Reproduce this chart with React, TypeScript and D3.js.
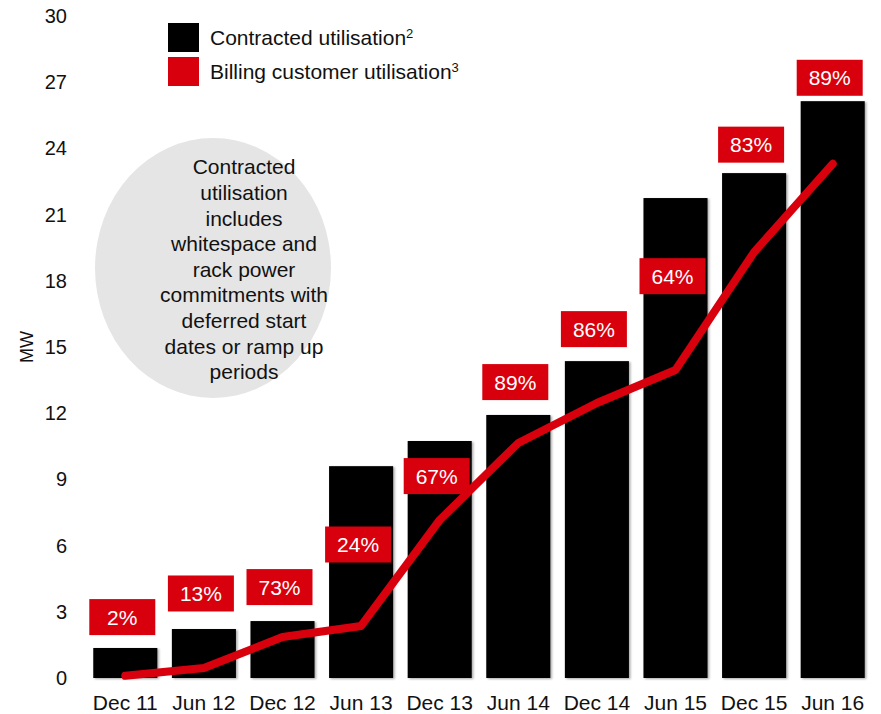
import React from "react";
import * as d3 from "d3";

const categories = ["Dec 11", "Jun 12", "Dec 12", "Jun 13", "Dec 13", "Jun 14", "Dec 14", "Jun 15", "Dec 15", "Jun 16"];
const contracted = [1.36, 2.22, 2.58, 9.6, 10.74, 11.92, 14.36, 21.75, 22.88, 26.14];
const billing = [0.1, 0.45, 1.86, 2.36, 7.16, 10.65, 12.46, 13.96, 19.3, 23.3];
const pctLabels = ["2%", "13%", "73%", "24%", "67%", "89%", "86%", "64%", "83%", "89%"];
const pctLabelLevel = [2.76, 3.83, 4.12, 6.05, 9.15, 13.41, 15.81, 18.21, 24.17, 27.2];
const yTicks = [0, 3, 6, 9, 12, 15, 18, 21, 24, 27, 30];
const noteLines = [
  "Contracted",
  "utilisation",
  "includes",
  "whitespace and",
  "rack power",
  "commitments with",
  "deferred start",
  "dates or ramp up",
  "periods",
];

const W = 881;
const H = 714;
const RED = "#d9000d";
const FONT = "'Liberation Sans', Arial, sans-serif";

export default function App() {
  const x = d3
    .scaleBand<string>()
    .domain(categories)
    .range([86, 872])
    .paddingInner(0.185)
    .paddingOuter(0.0925);
  const y = d3.scaleLinear().domain([0, 30]).range([678, 16]);
  const cx = (c: string) => (x(c) as number) + x.bandwidth() / 2;

  const line = d3
    .line<number>()
    .x((_, i) => cx(categories[i]))
    .y((d) => y(d));

  const boxW = 66;
  const boxH = 36;

  return (
    <svg
      width={W}
      height={H}
      style={{ position: "absolute", left: 0, top: 0, background: "#fff" }}
      fontFamily={FONT}
    >
      <defs>
        <filter id="sh" x="-10%" y="-10%" width="130%" height="130%">
          <feDropShadow dx="1.5" dy="1" stdDeviation="1.2" floodColor="#000" floodOpacity="0.35" />
        </filter>
      </defs>

      {/* note ellipse */}
      <ellipse cx={213} cy={268} rx={118} ry={130} fill="#e5e5e5" />
      <text fontSize={21} fill="#111" textAnchor="middle">
        {noteLines.map((t, i) => (
          <tspan key={i} x={244} y={167 + i * 25.6} dy="0.35em">
            {t}
          </tspan>
        ))}
      </text>

      {/* y axis */}
      {yTicks.map((t) => (
        <text key={t} x={67} y={y(t)} dy="0.35em" textAnchor="end" fontSize={20} fill="#111">
          {t}
        </text>
      ))}
      <text
        transform={`translate(27,${y(15)}) rotate(-90)`}
        textAnchor="middle"
        dy="0.35em"
        fontSize={18}
        fill="#111"
      >
        MW
      </text>

      {/* bars */}
      {categories.map((c, i) => (
        <rect
          key={c}
          x={x(c)}
          y={y(contracted[i])}
          width={x.bandwidth()}
          height={y(0) - y(contracted[i])}
          fill="#000"
          filter="url(#sh)"
        />
      ))}

      {/* x labels */}
      {categories.map((c) => (
        <text key={c} x={cx(c)} y={703} dy="0.35em" textAnchor="middle" fontSize={21} fill="#111">
          {c}
        </text>
      ))}

      {/* labels */}
      {categories.map((c, i) => (
        <g key={c}>
          <rect
            x={cx(c) - 3 - boxW / 2}
            y={y(pctLabelLevel[i]) - boxH / 2}
            width={boxW}
            height={boxH}
            fill={RED}
          />
          <text
            x={cx(c) - 3}
            y={y(pctLabelLevel[i])}
            dy="0.36em"
            textAnchor="middle"
            fontSize={21}
            fill="#fff"
          >
            {pctLabels[i]}
          </text>
        </g>
      ))}

      {/* billing line */}
      <path
        d={line(billing) || ""}
        fill="none"
        stroke={RED}
        strokeWidth={8}
        strokeLinecap="round"
        strokeLinejoin="round"
      />

      {/* legend */}
      <rect x={168} y={23} width={31} height={29} fill="#000" />
      <rect x={168} y={57} width={31} height={29} fill={RED} />
      <text x={210} y={38} dy="0.35em" fontSize={21} fill="#111">
        Contracted utilisation
        <tspan fontSize={13} dy="-0.55em">2</tspan>
      </text>
      <text x={210} y={72} dy="0.35em" fontSize={21} fill="#111">
        Billing customer utilisation
        <tspan fontSize={13} dy="-0.55em">3</tspan>
      </text>
    </svg>
  );
}
